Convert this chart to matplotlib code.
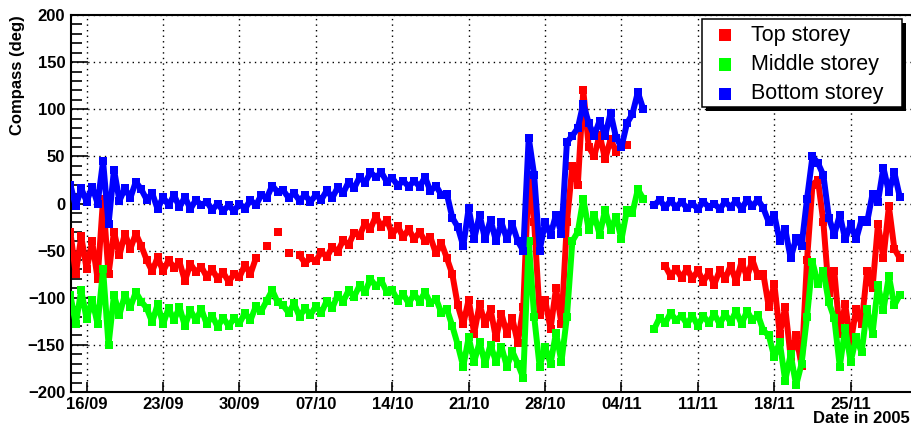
import numpy as np
import matplotlib
matplotlib.use("Agg")
import matplotlib.pyplot as plt
from matplotlib.patches import Rectangle

nan = np.nan

# sampling: days since 16/09/2005 00:00, one reading every half day
t_first = -1.5
t_step = 0.5

top_storey = [
    -30, -75, -35, -70, -40, -80, 5, -75, -30, -55,
    -32, -48, -32, -45, -60, -72, -57, -72, -60, -68,
    -62, -82, -64, -73, -67, -78, -70, -80, -73, -83,
    -75, -78, -65, -75, -58, nan, -45, nan, -30, nan,
    -52, nan, -55, -63, -58, -61, -51, -57, -46, -51,
    -39, -44, -31, -34, -21, -27, -13, -25, -17, -33,
    -24, -36, -27, -38, -30, -40, -36, -53, -42, -58,
    -75, -108, -128, -102, -138, -107, -128, -112, -143, -117,
    -138, -122, -148, -110, 30, -20, -118, -102, -133, -90,
    -128, -20, 40, 20, 120, 60, 50, 73, 47, 68,
    55, 63, 62, nan, nan, nan, nan, nan, nan, -66,
    -77, -69, -79, -69, -80, -71, -83, -73, -86, -71,
    -80, -66, -83, -62, -78, -60, -77, -75, -110, -85,
    -138, -110, -163, -140, -172, -60, 20, 25, -20, -95,
    -72, -138, -107, -148, -112, -128, -72, -90, -22, -58,
    -3, -48, -58,
]

middle_storey = [
    -97, -128, -92, -123, -102, -128, -70, -150, -97, -118,
    -97, -110, -94, -104, -111, -126, -107, -128, -111, -124,
    -110, -130, -113, -124, -112, -128, -119, -131, -121, -130,
    -122, -127, -116, -124, -109, -114, -103, -92, -105, -108,
    -116, -106, -120, -111, -118, -109, -116, -103, -111, -97,
    -104, -92, -99, -87, -94, -80, -88, -82, -94, -92,
    -103, -96, -106, -96, -104, -94, -106, -101, -116, -112,
    -130, -150, -173, -142, -168, -147, -170, -150, -168, -152,
    -173, -157, -170, -185, -40, -120, -173, -152, -170, -137,
    -168, -120, -40, -30, 5, -28, -12, -33, -7, -28,
    -14, -38, -7, -10, 15, 5, nan, -133, -121, -127,
    -116, -124, -119, -128, -119, -130, -119, -127, -117, -128,
    -117, -126, -114, -128, -114, -124, -118, -135, -140, -163,
    -147, -188, -160, -193, -170, -120, -62, -85, -72, -105,
    -122, -173, -132, -168, -142, -158, -112, -138, -87, -113,
    -77, -108, -97,
]

bottom_storey = [
    20, -3, 16, 2, 18, 0, 45, -22, 36, 3,
    16, 6, 23, 15, 4, 11, -6, 7, -2, 9,
    -4, 7, -6, 4, -2, 2, -7, 0, -8, -2,
    -8, 0, -6, 4, -2, 9, 6, 19, 12, 14,
    6, 11, 3, 9, 2, 9, 4, 14, 6, 17,
    11, 23, 16, 28, 22, 33, 28, 33, 23, 27,
    19, 24, 18, 24, 18, 28, 13, 19, 9, 10,
    -15, -25, -45, -5, -38, -12, -38, -17, -40, -20,
    -38, -22, -40, -50, 70, 30, -50, -20, -33, -12,
    -32, 65, 72, 80, 106, 85, 72, 88, 72, 96,
    70, 60, 85, 95, 118, 100, nan, -2, 4, -4,
    3, -4, 2, -5, 0, -6, 2, -4, 0, -6,
    2, -4, 3, -6, 4, -3, 4, -5, -20, -12,
    -40, -27, -58, -37, -45, 5, 50, 43, 30, -15,
    -33, -12, -38, -22, -38, -17, -20, 10, 2, 38,
    12, 33, 7,
]

tick_days = [0, 7, 14, 21, 28, 35, 42, 49, 56, 63, 70]
tick_labels = ["16/09", "23/09", "30/09", "07/10", "14/10", "21/10",
               "28/10", "04/11", "11/11", "18/11", "25/11"]
series_names = ["Top storey", "Middle storey", "Bottom storey"]
series_colors = ["#ff0000", "#00ff00", "#0000ff"]

plt.rcParams["font.family"] = ["Liberation Sans", "DejaVu Sans"]

W, H = 911, 430
fig = plt.figure(figsize=(W / 100, H / 100), dpi=100)
ax_l, ax_r, ax_t, ax_b = 70.7, 913.0, 15.0, 392.0
ax = fig.add_axes([ax_l / W, 1 - ax_b / H, (ax_r - ax_l) / W, (ax_b - ax_t) / H])

x_origin = 86.7        # pixel of 16/09
px_per_day = 10.914
ax.set_xlim((ax_l - x_origin) / px_per_day, (ax_r - x_origin) / px_per_day)
ax.set_ylim(-200, 200)

t = t_first + t_step * np.arange(len(bottom_storey))
for vals, col in zip([top_storey, middle_storey, bottom_storey], series_colors):
    ax.plot(t, vals, color=col, lw=4.3, marker="s", ms=5.5, mew=0,
            solid_joinstyle="round", solid_capstyle="butt", zorder=3)

ax.set_xticks(tick_days)
ax.set_xticklabels(tick_labels)
ax.set_yticks(np.arange(-200, 201, 50))
ax.set_yticks(np.arange(-200, 201, 10), minor=True)
ax.tick_params(axis="both", which="both", direction="in", colors="black",
               labelsize=12)
ax.tick_params(axis="y", which="major", length=12, width=1.2, pad=4)
ax.tick_params(axis="y", which="minor", length=8, width=1.2)
ax.tick_params(axis="x", which="major", length=7, width=1.2, pad=3.5)
for lab in ax.get_xticklabels() + ax.get_yticklabels():
    lab.set_fontweight("bold")

ax.grid(True, which="major", color="black", linestyle=(0, (1, 3)), linewidth=1.0)
for side in ["left", "bottom", "top"]:
    ax.spines[side].set_linewidth(1.5)
ax.spines["right"].set_visible(False)

ax.set_ylabel("Compass (deg)", fontsize=12, fontweight="bold", loc="top")
ax.yaxis.label.set_va("center")
ax.yaxis.set_label_coords((17.5 - ax_l) / (ax_r - ax_l), 1.0)
ax.set_xlabel("Date in 2005", fontsize=12, fontweight="bold", loc="right")
ax.xaxis.set_label_coords((910 - ax_l) / (ax_r - ax_l), (ax_b - 411) / (ax_b - ax_t))


def fx(x):
    return x / W


def fy(y):
    return 1 - y / H


# legend box with shadow
lx0, ly0, lx1, ly1 = 702, 19, 902, 107
fig.add_artist(Rectangle((fx(lx0 + 4), fy(ly1 + 4)), fx(lx1 - lx0), (ly1 - ly0) / H,
                         transform=fig.transFigure, facecolor="black",
                         edgecolor="none", zorder=5))
fig.add_artist(Rectangle((fx(lx0), fy(ly1)), fx(lx1 - lx0), (ly1 - ly0) / H,
                         transform=fig.transFigure, facecolor="white",
                         edgecolor="black", linewidth=1.1, zorder=6))
for i, (name, col) in enumerate(zip(series_names, series_colors)):
    yc = 35 + 29.5 * i
    fig.add_artist(Rectangle((fx(725 - 6), fy(yc + 6)), 12 / W, 12 / H,
                             transform=fig.transFigure, facecolor=col,
                             edgecolor="none", zorder=7))
    fig.text(fx(751), fy(yc), name, fontsize=15.5, ha="left", va="center",
             zorder=8)

fig.savefig("out.png", dpi=100)
